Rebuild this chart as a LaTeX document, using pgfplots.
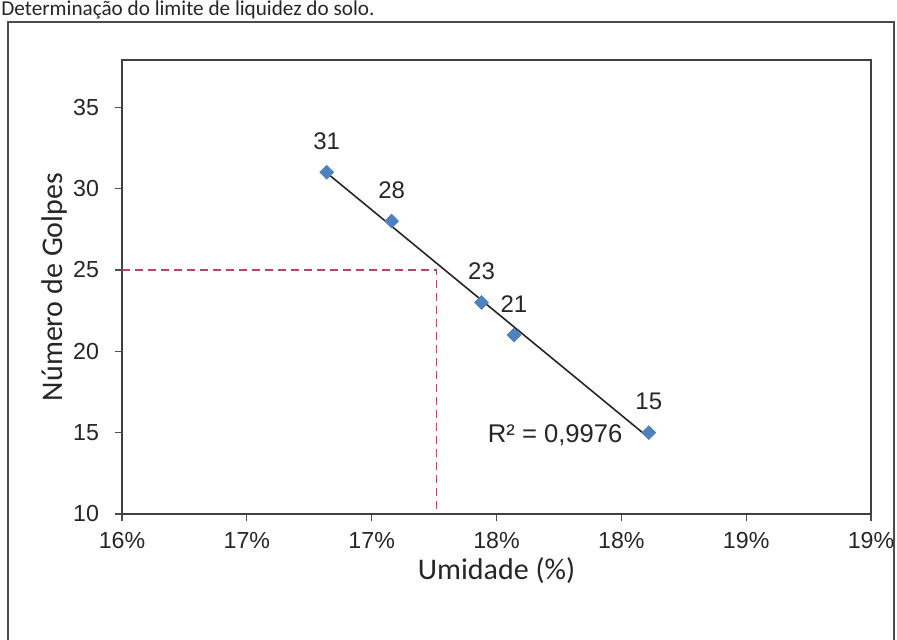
\documentclass[border=0pt]{standalone}
\usepackage{pgfplots}
\usepackage{pgfplotstable}
\pgfplotsset{compat=1.18}
\usepackage{fontspec}
\setmainfont{Liberation Sans}
\newfontfamily\calibri{Carlito}
\definecolor{markblue}{HTML}{4F81BD}
\definecolor{dashred}{HTML}{B8485E}
\pgfplotstableread{
x y label
16.82 31 31
17.08 28 28
17.44 23 23
17.57 21 21
18.11 15 15
}\datatable
\begin{document}
\begin{tikzpicture}[x=1pt,y=1pt]
\useasboundingbox (0,0) rectangle (448.5,319.5);
% title
\node[anchor=base west, inner sep=0pt, font=\calibri\fontsize{10.6}{12}\selectfont, text=black!85] at (0.5,312) {Determinação do limite de liquidez do solo.};
% outer frame
\draw[black!70, line width=1pt] (4,-5) -- (4,308.5) -- (447,308.5) -- (447,-5);
\begin{axis}[
  at={(61pt,62.5pt)}, anchor=south west,
  width=374.5pt, height=227pt, scale only axis,
  xmin=16, xmax=19, ymin=10, ymax=37.9,
  xtick={16,16.5,17,17.5,18,18.5,19},
  xticklabels={16\%,17\%,17\%,18\%,18\%,19\%,19\%},
  ytick={10,15,20,25,30,35},
  tick align=outside, major tick length=3.5pt,
  xtick pos=bottom, ytick pos=left,
  axis line style={black!75, line width=1.2pt},
  tick style={black!70, line width=0.6pt},
  tick label style={font=\fontsize{11.6}{13}\selectfont, text=black!85},
  /pgf/number format/assume math mode=true,
  xticklabel style={yshift=-2pt},
  yticklabel style={xshift=-4.5pt},
  xlabel={Umidade (\%)},
  ylabel={Número de Golpes},
  label style={font=\calibri\fontsize{15}{17}\selectfont, text=black!85},
  xlabel style={at={(rel axis cs:0.5,-0.1256)}, anchor=center},
  ylabel style={at={(rel axis cs:-0.0895,0.5)}, anchor=center, rotate=0},
  clip=false,
]
\addplot[dashred, line width=0.8pt, dash pattern=on 4pt off 2.5pt] coordinates {(16,25) (17.26,25) (17.26,10)};
\addplot[black!85, line width=0.8pt] table[x=x, y={create col/linear regression={y=y}}] {\datatable};
\addplot[only marks, mark=square*, mark size=2.4pt, mark options={fill=markblue, draw=markblue, rotate=45},
  nodes near coords, point meta=explicit symbolic,
  every node near coord/.append style={anchor=center, yshift=15.5pt, font=\fontsize{12}{14}\selectfont, text=black!85}]
  table[x=x, y=y, meta=label] {\datatable};
\node[anchor=east, inner sep=0pt, font=\fontsize{12.8}{14}\selectfont, text=black!85] at (axis cs:18.006,14.85) {R² = 0,9976};
\end{axis}
\end{tikzpicture}
\end{document}
